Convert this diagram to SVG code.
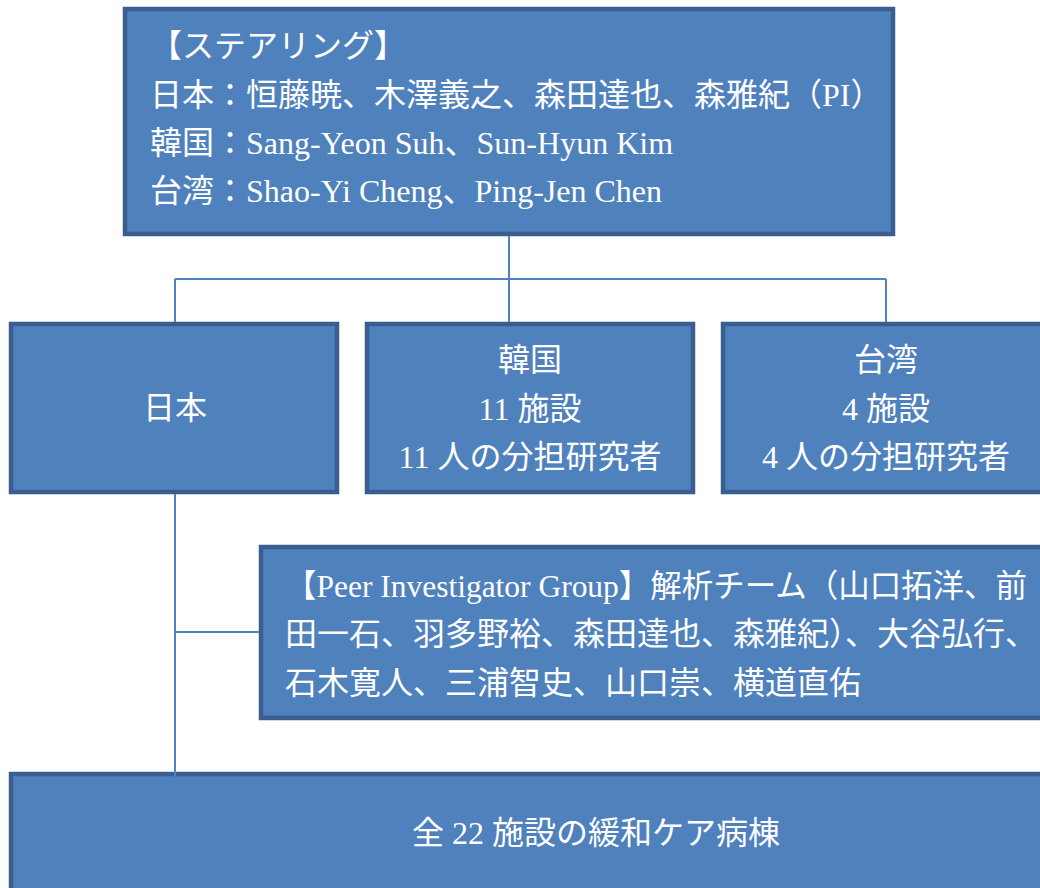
<svg xmlns="http://www.w3.org/2000/svg" width="1040" height="888" viewBox="0 0 1040 888">
<style>
.box{fill:#4F81BD;stroke:#3A5F8E;stroke-width:4.5}
.t{font-family:"Liberation Serif","Noto Sans CJK JP",serif;font-size:32px;fill:#FFFFFF}
.c{text-anchor:middle}
.ln{stroke:#4F81BD;stroke-width:2;fill:none}
</style>
<rect width="1040" height="888" fill="#FFFFFF"/>
<g id="steering">
<rect class="box" x="125" y="9" width="768" height="225"/>
<text class="t" x="150" y="57">【ステアリング】</text>
<text class="t" x="150" y="106">日本：恒藤暁、木澤義之、森田達也、森雅紀（PI）</text>
<text class="t" x="150" y="154">韓国：Sang-Yeon Suh、Sun-Hyun Kim</text>
<text class="t" x="150" y="202">台湾：Shao-Yi Cheng、Ping-Jen Chen</text>
</g>
<g id="japan">
<rect class="box" x="11" y="324" width="326" height="168"/>
<text class="t c" x="175" y="419">日本</text>
</g>
<g id="korea">
<rect class="box" x="367" y="324" width="326" height="168"/>
<text class="t c" x="530" y="371">韓国</text>
<text class="t c" x="530" y="420">11 施設</text>
<text class="t c" x="530" y="468">11 人の分担研究者</text>
</g>
<g id="taiwan">
<rect class="box" x="723" y="324" width="326" height="168"/>
<text class="t c" x="886" y="371">台湾</text>
<text class="t c" x="886" y="420">4 施設</text>
<text class="t c" x="886" y="468">4 人の分担研究者</text>
</g>
<g id="peer">
<rect class="box" x="261" y="547" width="820" height="171"/>
<text class="t" x="285" y="597" textLength="742" lengthAdjust="spacingAndGlyphs">【Peer Investigator Group】解析チーム（山口拓洋、前</text>
<text class="t" x="285" y="645">田一石、羽多野裕、森田達也、森雅紀）、大谷弘行、</text>
<text class="t" x="285" y="694">石木寛人、三浦智史、山口崇、横道直佑</text>
</g>
<g id="all22">
<rect class="box" x="11" y="774" width="1100" height="200"/>
<text class="t" x="412" y="844">全 22 施設の緩和ケア病棟</text>
</g>
<g id="connectors">
<path class="ln" d="M509 236V322M175 279H886M175 279V322M886 279V322"/>
<path class="ln" d="M175 494V792M175 632H259"/>
</g>
</svg>
